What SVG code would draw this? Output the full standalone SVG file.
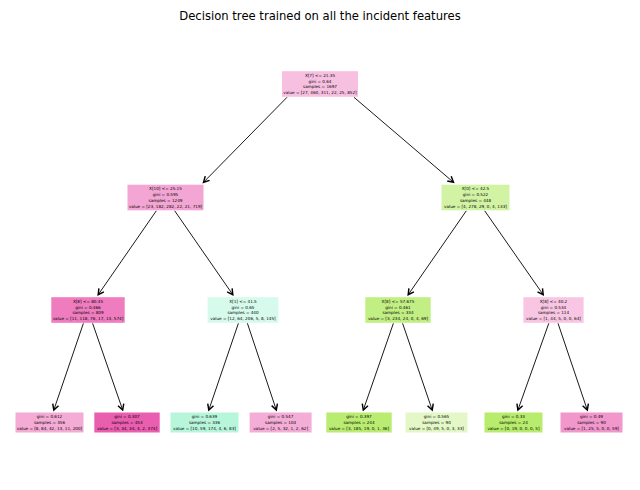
<svg xmlns="http://www.w3.org/2000/svg" width="640" height="490" viewBox="0 0 640 490">
<style>
.t{font-family:"DejaVu Sans",sans-serif;font-size:4.15px;fill:#000;text-anchor:middle}
.title{font-family:"DejaVu Sans",sans-serif;font-size:11.6px;fill:#000;text-anchor:middle}
.e{stroke:#000;stroke-width:0.9;fill:none;marker-end:url(#ah)}
</style>
<defs>
<marker id="ah" markerUnits="userSpaceOnUse" markerWidth="8" markerHeight="8" refX="4" refY="2.5" orient="auto" viewBox="0 0 5 5">
<path d="M0.5,0.6 L4,2.5 L0.5,4.4" fill="none" stroke="#000" stroke-width="0.9"/>
</marker>
</defs>
<rect width="640" height="490" fill="#fff"/>
<text class="title" x="320" y="19.5">Decision tree trained on all the incident features</text>
<g id="edges">
<line class="e" x1="287" y1="97.3" x2="203.5" y2="182.3"/>
<line class="e" x1="354" y1="97.3" x2="453.5" y2="182.3"/>
<line class="e" x1="156.3" y1="210.8" x2="98.2" y2="294.7"/>
<line class="e" x1="174.7" y1="210.8" x2="232.8" y2="294.7"/>
<line class="e" x1="466.3" y1="210.8" x2="408.2" y2="294.7"/>
<line class="e" x1="484.7" y1="210.8" x2="543.2" y2="294.7"/>
<line class="e" x1="83.4" y1="323.3" x2="53.8" y2="410"/>
<line class="e" x1="92.6" y1="323.3" x2="122.7" y2="410"/>
<line class="e" x1="238.4" y1="323.3" x2="208.8" y2="410"/>
<line class="e" x1="247.4" y1="323.3" x2="276.3" y2="410"/>
<line class="e" x1="393.4" y1="323.3" x2="363.3" y2="410"/>
<line class="e" x1="402.6" y1="323.3" x2="432.2" y2="410"/>
<line class="e" x1="548.8" y1="323.3" x2="517.9" y2="410"/>
<line class="e" x1="558" y1="323.3" x2="587.3" y2="410"/>
</g>
<g id="n0">
<rect x="282" y="71.2" width="76" height="25.6" fill="#f7c0e0"/>
<text class="t" x="320" y="76.8">X[7] &lt;= 21.35</text>
<text class="t" x="320" y="82.6">gini = 0.64</text>
<text class="t" x="320" y="88.4">samples = 1697</text>
<text class="t" x="320" y="94.2">value = [27, 460, 311, 22, 25, 852]</text>
</g>
<g id="n1">
<rect x="127.5" y="184.7" width="76" height="25.6" fill="#f3a6d3"/>
<text class="t" x="165.5" y="190.3">X[10] &lt;= 25.15</text>
<text class="t" x="165.5" y="196.1">gini = 0.595</text>
<text class="t" x="165.5" y="201.9">samples = 1249</text>
<text class="t" x="165.5" y="207.7">value = [23, 182, 282, 22, 21, 719]</text>
</g>
<g id="n8">
<rect x="441.5" y="184.7" width="68" height="25.6" fill="#d2f3a4"/>
<text class="t" x="475.5" y="190.3">X[0] &lt;= 42.5</text>
<text class="t" x="475.5" y="196.1">gini = 0.522</text>
<text class="t" x="475.5" y="201.9">samples = 448</text>
<text class="t" x="475.5" y="207.7">value = [4, 278, 29, 0, 4, 133]</text>
</g>
<g id="n2">
<rect x="51.3" y="297.2" width="73.4" height="25.6" fill="#ee7cbe"/>
<text class="t" x="88" y="302.8">X[8] &lt;= 80.45</text>
<text class="t" x="88" y="308.6">gini = 0.466</text>
<text class="t" x="88" y="314.4">samples = 809</text>
<text class="t" x="88" y="320.2">value = [11, 118, 76, 17, 13, 574]</text>
</g>
<g id="n5">
<rect x="207.6" y="297.2" width="70.8" height="25.6" fill="#d6faeb"/>
<text class="t" x="243" y="302.8">X[1] &lt;= 41.5</text>
<text class="t" x="243" y="308.6">gini = 0.65</text>
<text class="t" x="243" y="314.4">samples = 440</text>
<text class="t" x="243" y="320.2">value = [12, 64, 206, 5, 8, 145]</text>
</g>
<g id="n9">
<rect x="365.3" y="297.2" width="65.4" height="25.6" fill="#c2ef84"/>
<text class="t" x="398" y="302.8">X[8] &lt;= 57.675</text>
<text class="t" x="398" y="308.6">gini = 0.461</text>
<text class="t" x="398" y="314.4">samples = 334</text>
<text class="t" x="398" y="320.2">value = [3, 234, 24, 0, 4, 69]</text>
</g>
<g id="n12">
<rect x="523.4" y="297.2" width="60.2" height="25.6" fill="#f8c6e3"/>
<text class="t" x="553.5" y="302.8">X[8] &lt;= 40.2</text>
<text class="t" x="553.5" y="308.6">gini = 0.534</text>
<text class="t" x="553.5" y="314.4">samples = 114</text>
<text class="t" x="553.5" y="320.2">value = [1, 44, 5, 0, 0, 64]</text>
</g>
<g id="n3">
<rect x="15.5" y="412.5" width="68" height="20" fill="#f4abd5"/>
<text class="t" x="49.5" y="418.2">gini = 0.612</text>
<text class="t" x="49.5" y="424">samples = 356</text>
<text class="t" x="49.5" y="429.8">value = [8, 84, 42, 13, 11, 200]</text>
</g>
<g id="n4">
<rect x="94.3" y="412.5" width="65.4" height="20" fill="#ea5eaf"/>
<text class="t" x="127" y="418.2">gini = 0.307</text>
<text class="t" x="127" y="424">samples = 453</text>
<text class="t" x="127" y="429.8">value = [3, 34, 34, 4, 2, 374]</text>
</g>
<g id="n6">
<rect x="170.5" y="412.5" width="68" height="20" fill="#b8f6dc"/>
<text class="t" x="204.5" y="418.2">gini = 0.639</text>
<text class="t" x="204.5" y="424">samples = 336</text>
<text class="t" x="204.5" y="429.8">value = [10, 59, 174, 4, 6, 83]</text>
</g>
<g id="n7">
<rect x="249.6" y="412.5" width="62" height="20" fill="#f4add6"/>
<text class="t" x="280.6" y="418.2">gini = 0.547</text>
<text class="t" x="280.6" y="424">samples = 104</text>
<text class="t" x="280.6" y="429.8">value = [2, 5, 32, 1, 2, 62]</text>
</g>
<g id="n10">
<rect x="326.3" y="412.5" width="65.4" height="20" fill="#b9ec71"/>
<text class="t" x="359" y="418.2">gini = 0.397</text>
<text class="t" x="359" y="424">samples = 244</text>
<text class="t" x="359" y="429.8">value = [3, 185, 19, 0, 1, 36]</text>
</g>
<g id="n11">
<rect x="405.5" y="412.5" width="62" height="20" fill="#e4f8c7"/>
<text class="t" x="436.5" y="418.2">gini = 0.565</text>
<text class="t" x="436.5" y="424">samples = 90</text>
<text class="t" x="436.5" y="429.8">value = [0, 49, 5, 0, 3, 33]</text>
</g>
<g id="n13">
<rect x="484.5" y="412.5" width="58" height="20" fill="#b7ec6d"/>
<text class="t" x="513.5" y="418.2">gini = 0.33</text>
<text class="t" x="513.5" y="424">samples = 24</text>
<text class="t" x="513.5" y="429.8">value = [0, 19, 0, 0, 0, 5]</text>
</g>
<g id="n14">
<rect x="560.5" y="412.5" width="62" height="20" fill="#f197cc"/>
<text class="t" x="591.5" y="418.2">gini = 0.49</text>
<text class="t" x="591.5" y="424">samples = 90</text>
<text class="t" x="591.5" y="429.8">value = [1, 25, 5, 0, 0, 59]</text>
</g>
</svg>
